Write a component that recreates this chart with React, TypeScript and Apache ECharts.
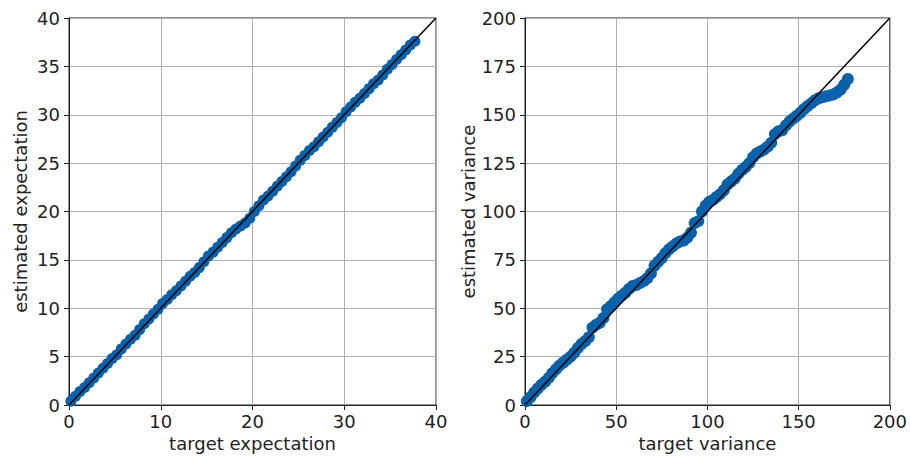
import React, { useEffect, useRef } from "react";
import * as echarts from "echarts";

// Left panel: target expectation vs estimated expectation
const expTarget = [
  0.2, 0.7, 1.2, 1.7, 2.2, 2.7, 3.2, 3.7, 4.2, 4.7, 5.2, 5.7, 6.2, 6.7, 7.2, 7.7, 8.2, 8.7, 9.2, 9.7,
  10.2, 10.7, 11.2, 11.7, 12.2, 12.7, 13.2, 13.7, 14.2, 14.7, 15.2, 15.7, 16.2, 16.7, 17.2, 17.7, 18.2, 18.7, 19.2, 19.7,
  20.2, 20.7, 21.2, 21.7, 22.2, 22.7, 23.2, 23.7, 24.2, 24.7, 25.2, 25.7, 26.2, 26.7, 27.2, 27.7, 28.2, 28.7, 29.2, 29.7,
  30.2, 30.7, 31.2, 31.7, 32.2, 32.7, 33.2, 33.7, 34.2, 34.7, 35.2, 35.7, 36.2, 36.7, 37.2, 37.7,
];
const expEstimated = [
  0.4, 0.9, 1.4, 1.8, 2.3, 2.8, 3.3, 3.8, 4.3, 4.8, 5.2, 5.8, 6.3, 6.8, 7.2, 7.8, 8.4, 8.9, 9.4, 9.9,
  10.5, 10.9, 11.4, 11.8, 12.3, 12.8, 13.3, 13.7, 14.2, 14.8, 15.4, 15.8, 16.3, 16.8, 17.3, 17.8, 18.2, 18.5, 18.8, 19.3,
  20.0, 20.6, 21.2, 21.6, 22.1, 22.6, 23.1, 23.6, 24.1, 24.7, 25.3, 25.8, 26.3, 26.7, 27.2, 27.7, 28.2, 28.7, 29.2, 29.7,
  30.3, 30.8, 31.3, 31.7, 32.2, 32.7, 33.2, 33.6, 34.1, 34.7, 35.2, 35.7, 36.2, 36.7, 37.2, 37.6,
];

// Right panel: target variance vs estimated variance
const varTarget = [
  1, 3, 5, 7, 9, 11, 13, 15, 17, 19, 21, 23, 25, 27, 29, 31, 33, 35, 37, 39,
  41, 43, 45, 47, 49, 51, 53, 55, 57, 59, 61, 63, 65, 67, 69, 71, 73, 75, 77, 79,
  81, 83, 85, 87, 89, 91, 93, 95, 97, 99, 101, 103, 105, 107, 109, 111, 113, 115, 117, 119,
  121, 123, 125, 127, 129, 131, 133, 135, 137, 139, 141, 143, 145, 147, 149, 151, 153, 155, 157, 159,
  161, 163, 165, 167, 169, 171, 173, 175, 177,
];
const varEstimated = [
  2, 4, 6.5, 8.5, 10.5, 12, 14, 16.5, 18.5, 20.5, 22, 23.5, 25, 27, 29.5, 31.5, 33, 35, 40, 41.5,
  42.5, 45, 49.5, 51, 53, 55, 56.5, 58, 60, 61.5, 62, 63, 64, 65.5, 68, 72, 74, 76, 78.5, 80.5,
  82, 83.5, 84.5, 85, 86.5, 89, 94, 95, 100, 103, 105, 106, 107.5, 109, 111, 114, 115.5, 117, 119.5, 121.5,
  123, 125, 128, 130, 131, 132, 133.5, 135.5, 140, 141.5, 142, 144.5, 146.5, 148, 149.5, 151, 153, 154.5, 156, 157.5,
  158.5, 159, 159.5, 160, 160.5, 161.5, 163, 165.5, 168.5,
];

const expTicks = [0, 5, 10, 15, 20, 25, 30, 35, 40];
const varTicks = [0, 25, 50, 75, 100, 125, 150, 175, 200];

const FONT = "DejaVu Sans";
const BLUE = "#0862ab";

function axisCommon(name: string, max: number, interval: number, isY: boolean) {
  return {
    type: "value",
    min: 0,
    max,
    interval,
    name,
    nameLocation: "middle",
    nameGap: isY ? 40 : 29,
    nameTextStyle: { fontFamily: FONT, fontSize: 18, color: "#222" },
    axisLine: { show: true, lineStyle: { color: "#222", width: 1 } },
    axisTick: { show: true, inside: false, length: 5, lineStyle: { color: "#222", width: 1 } },
    axisLabel: { fontFamily: FONT, fontSize: 18, color: "#222", margin: isY ? 9 : 7 },
    splitLine: { show: true, lineStyle: { color: "#b0b0b0", width: 1 } },
  };
}

export default function App() {
  const ref = useRef<HTMLDivElement>(null);
  useEffect(() => {
    if (!ref.current) return;
    const chart = echarts.init(ref.current, undefined, { renderer: "svg" });
    const expData = expTarget.map((x, i) => [x, expEstimated[i]]);
    const varData = varTarget.map((x, i) => [x, varEstimated[i]]);
    const expMax = expTicks[expTicks.length - 1];
    const varMax = varTicks[varTicks.length - 1];
    const yVar = axisCommon("estimated variance", varMax, 25, true);
    (yVar as any).nameGap = 44;
    chart.setOption({
      animation: false,
      backgroundColor: "#ffffff",
      grid: [
        { left: 69, top: 18, width: 367, height: 387, show: true, borderColor: "#222", borderWidth: 1, backgroundColor: "transparent" },
        { left: 525, top: 18, width: 368, height: 387, show: true, borderColor: "#222", borderWidth: 1, backgroundColor: "transparent" },
      ],
      xAxis: [
        { ...axisCommon("target expectation", expMax, 10, false), gridIndex: 0 },
        { ...axisCommon("target variance", varMax, 50, false), gridIndex: 1 },
      ],
      yAxis: [
        { ...axisCommon("estimated expectation", expMax, 5, true), gridIndex: 0 },
        { ...yVar, gridIndex: 1 },
      ],
      series: [
        {
          type: "scatter",
          xAxisIndex: 0,
          yAxisIndex: 0,
          data: expData,
          symbolSize: 11,
          itemStyle: { color: BLUE, opacity: 1 },
          z: 2,
        },
        {
          type: "line",
          xAxisIndex: 0,
          yAxisIndex: 0,
          data: [[0, 0], [expMax, expMax]],
          showSymbol: false,
          symbol: "none",
          lineStyle: { color: "#000", width: 1.5 },
          z: 3,
        },
        {
          type: "scatter",
          xAxisIndex: 1,
          yAxisIndex: 1,
          data: varData,
          symbolSize: 12,
          itemStyle: { color: BLUE, opacity: 1 },
          z: 2,
        },
        {
          type: "line",
          xAxisIndex: 1,
          yAxisIndex: 1,
          data: [[0, 0], [varMax, varMax]],
          showSymbol: false,
          symbol: "none",
          lineStyle: { color: "#000", width: 1.5 },
          z: 3,
        },
      ],
    });
    return () => chart.dispose();
  }, []);
  return (
    <div
      ref={ref}
      style={{ position: "fixed", left: 0, top: 0, width: 910, height: 458, background: "#fff" }}
    />
  );
}
